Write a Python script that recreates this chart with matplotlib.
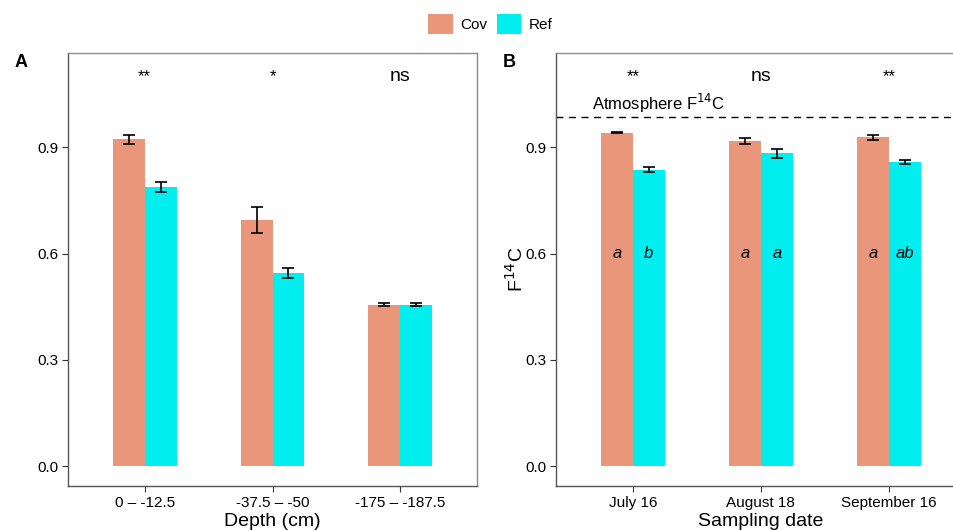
import matplotlib
matplotlib.use('Agg')
import matplotlib.pyplot as plt
from matplotlib.patches import Patch

plt.rcParams['font.family'] = ['Liberation Sans', 'DejaVu Sans']

# Panel A: soil depth profile
depth_labels = ['0 \u2013 -12.5', '-37.5 \u2013 -50', '-175 \u2013 -187.5']
cov_depth = [0.922, 0.695, 0.456]
cov_depth_err = [0.013, 0.036, 0.005]
ref_depth = [0.787, 0.544, 0.456]
ref_depth_err = [0.014, 0.014, 0.005]
sig_depth = ['**', '*', 'ns']

# Panel B: sampling dates
date_labels = ['July 16', 'August 18', 'September 16']
cov_date = [0.941, 0.918, 0.928]
cov_date_err = [0.002, 0.009, 0.007]
ref_date = [0.837, 0.883, 0.859]
ref_date_err = [0.006, 0.013, 0.006]
sig_date = ['**', 'ns', '**']
letters_cov = ['a', 'a', 'a']
letters_ref = ['b', 'a', 'ab']
atmosphere = 0.985

COV = '#E9967A'
REF = '#00EEEE'
BW = 0.25
YTICKS = [0.0, 0.3, 0.6, 0.9]


def draw_panel(ax, labels, cov, cov_err, ref, ref_err, sig, xlabel):
    x = list(range(1, len(labels) + 1))
    xc = [i - BW / 2 for i in x]
    xr = [i + BW / 2 for i in x]
    ax.bar(xc, cov, width=BW, color=COV, zorder=2)
    ax.bar(xr, ref, width=BW, color=REF, zorder=2)
    ax.errorbar(xc, cov, yerr=cov_err, fmt='none', ecolor='black',
                elinewidth=1.2, capsize=4.5, capthick=1.2, zorder=3)
    ax.errorbar(xr, ref, yerr=ref_err, fmt='none', ecolor='black',
                elinewidth=1.2, capsize=4.5, capthick=1.2, zorder=3)
    for i, s in zip(x, sig):
        ax.text(i, 1.087, s, ha='center', va='baseline',
                fontsize=14 if s == 'ns' else 12)
    ax.set_xlim(0.4, 3.6)
    ax.set_ylim(-0.056, 1.166)
    ax.set_xticks(x)
    ax.set_xticklabels(labels)
    ax.set_yticks(YTICKS)
    ax.set_yticklabels([f'{v:.1f}' for v in YTICKS])
    ax.set_xlabel(xlabel, fontsize=14, labelpad=2)
    ax.tick_params(labelsize=11, length=4, color='#333333', pad=3)
    for side in ['top', 'right']:
        ax.spines[side].set_color('#8c8c8c')
    for side in ['left', 'bottom']:
        ax.spines[side].set_color('#555555')
    for sp in ax.spines.values():
        sp.set_linewidth(1.0)


fig = plt.figure(figsize=(9.54, 5.30), dpi=100)
ax_a = fig.add_axes([0.0713, 0.083, 0.4287, 0.817])
ax_b = fig.add_axes([0.5828, 0.083, 0.4293, 0.817])

draw_panel(ax_a, depth_labels, cov_depth, cov_depth_err, ref_depth,
           ref_depth_err, sig_depth, 'Depth (cm)')
draw_panel(ax_b, date_labels, cov_date, cov_date_err, ref_date,
           ref_date_err, sig_date, 'Sampling date')

# reference line for atmospheric radiocarbon
ax_b.axhline(atmosphere, color='black', linestyle=(0, (5, 4)), linewidth=1.0)
ax_b.text(0.68, 1.005, 'Atmosphere F$^{14}$C', fontsize=12, ha='left',
          va='baseline')
for i, (lc, lr) in enumerate(zip(letters_cov, letters_ref), start=1):
    ax_b.text(i - BW / 2, 0.6, lc, ha='center', va='center', fontsize=12,
              style='italic', zorder=4)
    ax_b.text(i + BW / 2, 0.6, lr, ha='center', va='center', fontsize=12,
              style='italic', zorder=4)
ax_b.set_ylabel('F$^{14}$C', fontsize=14, labelpad=-1)

fig.text(0.015, 0.883, 'A', fontsize=13, fontweight='bold', va='center')
fig.text(0.527, 0.883, 'B', fontsize=13, fontweight='bold', va='center')

handles = [Patch(facecolor=COV, label='Cov'), Patch(facecolor=REF, label='Ref')]
fig.legend(handles=handles, loc='center', bbox_to_anchor=(0.514, 0.955), ncol=2,
           frameon=False, fontsize=11, handlelength=1.6, handleheight=1.6,
           handletextpad=0.5, columnspacing=0.6)

fig.savefig('out.png', dpi=100)
